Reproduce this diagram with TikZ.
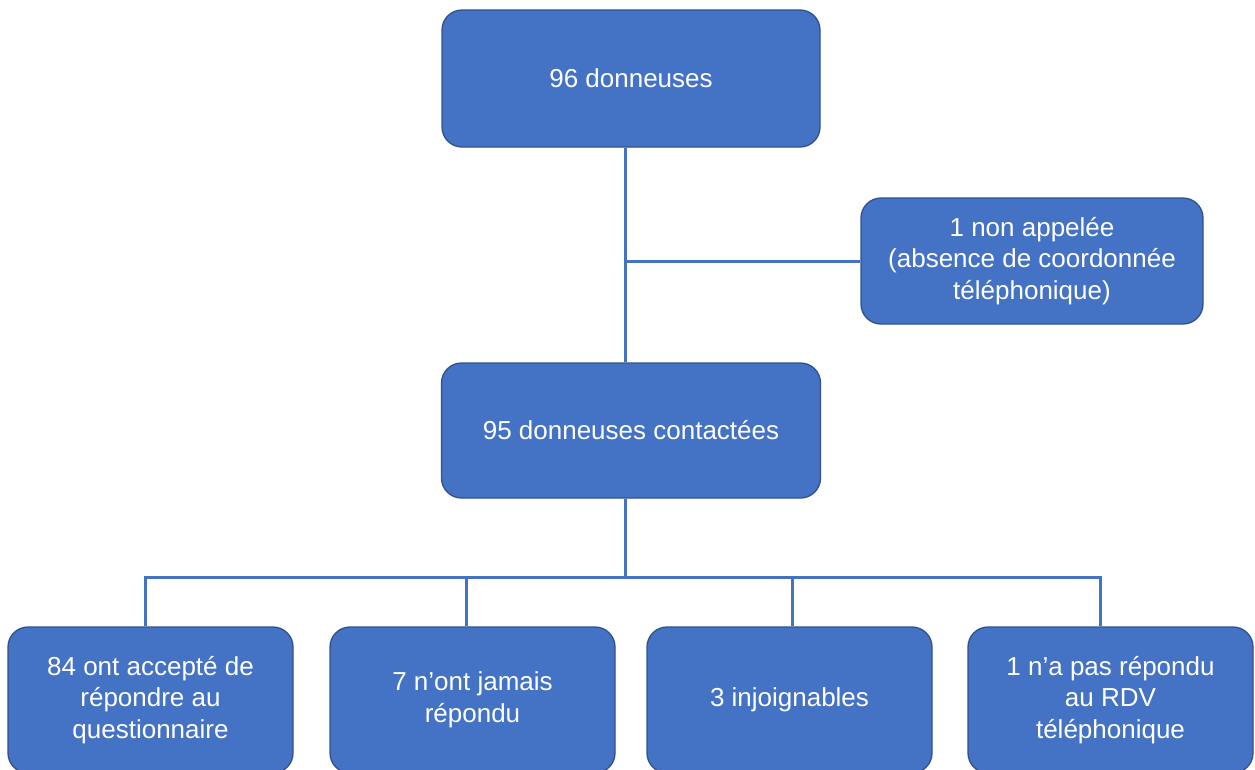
\documentclass[tikz,border=0pt]{standalone}
\usepackage{fontspec}
\setmainfont{Liberation Sans}
\definecolor{boxblue}{HTML}{4472C4}
\definecolor{boxedge}{HTML}{2F528F}
\begin{document}
\begin{tikzpicture}[x=1pt,y=-1pt,
  box/.style={draw=boxedge,line width=1.3pt,fill=boxblue,rounded corners=20pt,
    text=white,align=center,font=\fontsize{26}{31.5}\selectfont,inner sep=0pt},
  link/.style={draw=boxblue,line width=3pt}]
\useasboundingbox (0,0) rectangle (1255,769);
\fill[white] (0,0) rectangle (1255,769);
\clip (0,0) rectangle (1255,769);
\node[box,minimum width=378pt,minimum height=137pt] (top) at (631,78.5) {96 donneuses};
\node[box,minimum width=342pt,minimum height=126pt] (side) at (1032,261) {1 non appelée\\(absence de coordonnée\\téléphonique)};
\node[box,minimum width=379pt,minimum height=135pt] (mid) at (631,430.5) {95 donneuses contactées};
\node[box,minimum width=285pt,minimum height=146pt] (b1) at (150.5,700) {84 ont accepté de\\répondre au\\questionnaire};
\node[box,minimum width=285pt,minimum height=146pt] (b2) at (472.5,700) {7 n’ont jamais\\répondu};
\node[box,minimum width=285pt,minimum height=146pt] (b3) at (789.5,700) {3 injoignables};
\node[box,minimum width=285pt,minimum height=146pt] (b4) at (1110.5,700) {1 n’a pas répondu\\au RDV\\téléphonique};
\coordinate (j1) at (625,261);
\coordinate (bus) at (625,577);
\coordinate (d1) at (145,577);
\coordinate (d2) at (466,577);
\coordinate (d3) at (792,577);
\coordinate (d4) at (1100,577);
\draw[link] (top.south -| j1) -- (mid.north -| j1);
\draw[link] (j1) -- (side.west |- j1);
\draw[link] (mid.south -| bus) -- (bus);
\draw[link,line cap=rect] (d1) -- (d4);
\draw[link] (d1) -- (b1.north -| d1);
\draw[link] (d2) -- (b2.north -| d2);
\draw[link] (d3) -- (b3.north -| d3);
\draw[link] (d4) -- (b4.north -| d4);
\end{tikzpicture}
\end{document}
